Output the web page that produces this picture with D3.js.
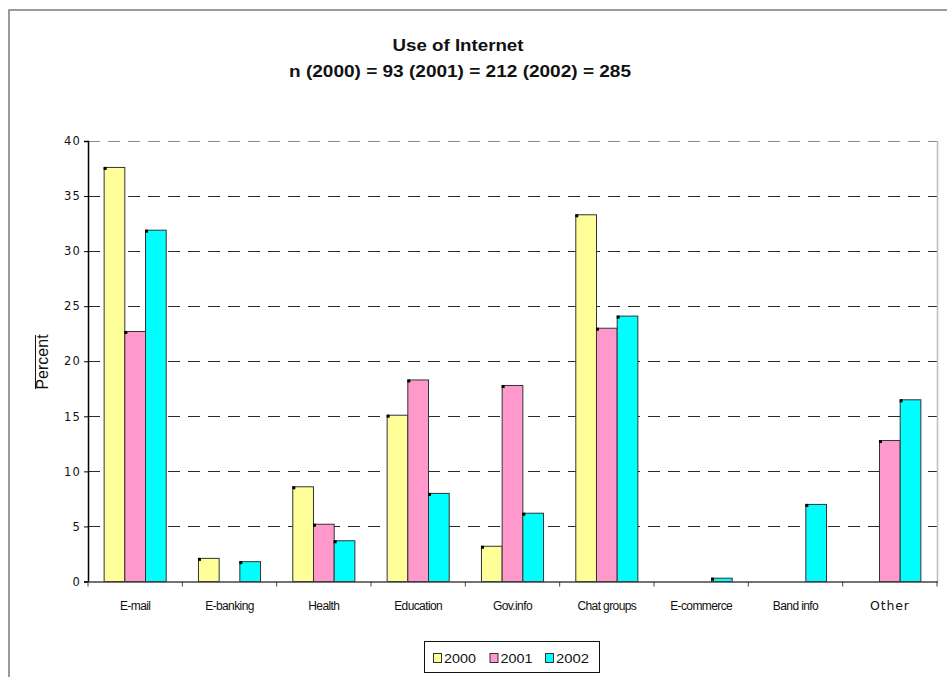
<!DOCTYPE html>
<html><head><meta charset="utf-8">
<script src="https://cdn.jsdelivr.net/npm/d3@7"></script>
<style>body{margin:0;background:#fff}svg{display:block}</style>
</head><body>
<svg id="c" width="947" height="677"></svg>
<script>
const categories = ["E-mail","E-banking","Health","Education","Gov.info","Chat groups","E-commerce","Band info","Other"];
const seriesNames = ["2000","2001","2002"];
const values2000 = [37.6, 2.1, 8.6, 15.1, 3.2, 33.3, 0, 0, 0];
const values2001 = [22.7, 0, 5.2, 18.3, 17.8, 23.0, 0, 0, 12.8];
const values2002 = [31.9, 1.8, 3.7, 8.0, 6.2, 24.1, 0.3, 7.0, 16.5];
const yTicks = [0,5,10,15,20,25,30,35,40];
const colors = ["#FFFF99","#FF99CC","#00FFFF"];
const titleText = "Use of Internet";
const subtitleText = "n (2000) = 93 (2001) = 212 (2002) = 285";
const yLabel = "Percent";

(function(){
const series = [values2000, values2001, values2002];
const svg = d3.select("#c");

// outer frame
svg.append("rect").attr("x",9).attr("y",10).attr("width",960).attr("height",700)
  .attr("fill","none").attr("stroke","#7a7a7a").attr("stroke-width",1.5);

const pL = 88, pR = 937, pT = 141, pB = 581.5;
const x0 = d3.scaleBand().domain(categories).range([pL, pR]);
const x1 = d3.scaleBand().domain(seriesNames).range([0, x0.bandwidth()]).paddingOuter(0.78);
const y = d3.scaleLinear().domain([0,40]).range([pB, pT]);

// gridlines
svg.append("g").selectAll("line").data(yTicks.filter(t=>t>0)).join("line")
  .attr("x1",pL).attr("x2",pR)
  .attr("y1",d=>Math.round(y(d))+0.5).attr("y2",d=>Math.round(y(d))+0.5)
  .attr("stroke",d=>d===40?"#8a8a8a":"#2a2a2a").attr("stroke-width",1.2)
  .attr("stroke-dasharray","12,8");

// right plot border
svg.append("line").attr("x1",pR+0.5).attr("x2",pR+0.5).attr("y1",pT).attr("y2",pB)
  .attr("stroke","#bdbdbd").attr("stroke-width",1.5);

// bars
const barData = [];
categories.forEach((c,i)=>seriesNames.forEach((s,j)=>{
  if (series[j][i] > 0) barData.push({c, s, v: series[j][i], j});
}));
const gb = svg.append("g");
gb.selectAll("rect.bar").data(barData).join("rect").attr("class","bar")
  .attr("x",d=>x0(d.c)+x1(d.s)).attr("width",x1.bandwidth())
  .attr("y",d=>y(d.v)).attr("height",d=>y(0)-y(d.v))
  .attr("fill",d=>colors[d.j]).attr("stroke","#333").attr("stroke-width",1);
gb.selectAll("rect.mk").data(barData).join("rect").attr("class","mk")
  .attr("x",d=>x0(d.c)+x1(d.s)-0.5).attr("y",d=>y(d.v)-0.5)
  .attr("width",3).attr("height",3).attr("fill","#000");

// y axis
const yAxis = svg.append("g").attr("transform",`translate(${pL},0)`)
  .call(d3.axisLeft(y).tickValues(yTicks).tickSize(4).tickPadding(3));
yAxis.select(".domain").attr("stroke","#000").attr("stroke-width",1.5);
yAxis.selectAll(".tick line").attr("stroke","#000");
yAxis.selectAll(".tick text").attr("font-family","DejaVu Sans, Verdana, sans-serif")
  .attr("font-size",11.5).attr("letter-spacing","1.2px").attr("fill","#111");

// x axis
const xAxis = svg.append("g").attr("transform",`translate(0,${pB})`);
xAxis.append("line").attr("x1",pL).attr("x2",pR+1).attr("y1",0.5).attr("y2",0.5)
  .attr("stroke","#444").attr("stroke-width",1.5);
xAxis.selectAll("line.t").data(categories.concat(["__end"])).join("line").attr("class","t")
  .attr("x1",(d,i)=>i<categories.length?x0(d):pR).attr("x2",(d,i)=>i<categories.length?x0(d):pR)
  .attr("y1",0).attr("y2",5).attr("stroke","#444");
xAxis.selectAll("text").data(categories).join("text")
  .attr("x",d=>x0(d)+x0.bandwidth()/2).attr("y",28)
  .attr("text-anchor","middle")
  .attr("font-family",d=>d==="Other"?"DejaVu Sans, Verdana, sans-serif":"Liberation Sans, Arial, sans-serif")
  .attr("font-size",d=>d==="Other"?12.5:12)
  .attr("letter-spacing",d=>d==="Other"?"0.8px":"-0.6px")
  .attr("fill","#111").text(d=>d);

// y label
const yl = svg.append("g").attr("transform","translate(48,362) rotate(-90)");
yl.append("text").attr("text-anchor","middle").attr("font-family","Liberation Sans, Arial, sans-serif")
  .attr("font-size",16).attr("fill","#111").text(yLabel);
yl.append("line").attr("x1",-27).attr("x2",27).attr("y1",-12.5).attr("y2",-12.5).attr("stroke","#111").attr("stroke-width",1);

// titles
svg.append("text").attr("x",458).attr("y",51).attr("text-anchor","middle")
  .attr("font-family","Liberation Sans, Arial, sans-serif").attr("font-weight","bold")
  .attr("font-size",16).attr("textLength",131).attr("lengthAdjust","spacingAndGlyphs")
  .attr("fill","#111").text(titleText);
svg.append("text").attr("x",460).attr("y",77).attr("text-anchor","middle")
  .attr("font-family","Liberation Sans, Arial, sans-serif").attr("font-weight","bold")
  .attr("font-size",16).attr("textLength",342).attr("lengthAdjust","spacingAndGlyphs")
  .attr("fill","#111").text(subtitleText);

// legend
const lg = svg.append("g");
lg.append("rect").attr("x",424.5).attr("y",641.5).attr("width",175).attr("height",31)
  .attr("fill","#fff").attr("stroke","#111").attr("stroke-width",1);
const legX = [433, 489.5, 545];
const items = lg.selectAll("g.it").data(seriesNames).join("g").attr("class","it")
  .attr("transform",(d,i)=>`translate(${legX[i]},0)`);
items.append("rect").attr("x",0.5).attr("y",653.5).attr("width",8).attr("height",9)
  .attr("fill",(d,i)=>colors[i]).attr("stroke","#333");
items.append("text").attr("x",11).attr("y",663).attr("font-family","Liberation Sans, Arial, sans-serif")
  .attr("font-size",13).attr("textLength",(d,i)=>i===2?33:32).attr("lengthAdjust","spacingAndGlyphs")
  .attr("fill","#111").text(d=>d);
})();
</script>
</body></html>
